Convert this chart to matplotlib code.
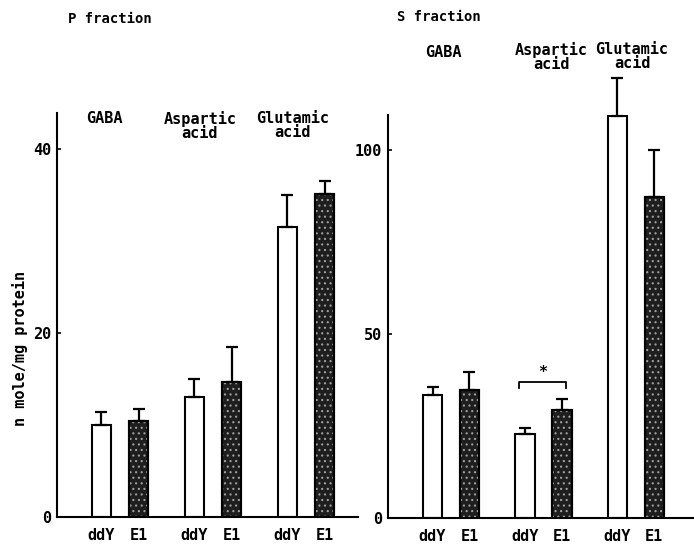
import matplotlib
matplotlib.use("Agg")
import matplotlib.pyplot as plt
import numpy as np

plt.rcParams['font.family'] = ['DejaVu Sans Mono', 'DejaVu Sans']
plt.rcParams['font.weight'] = 'bold'
plt.rcParams['hatch.linewidth'] = 0.8

# ---- data ----
amino_acids = ["GABA", "Aspartic\nacid", "Glutamic\nacid"]
strains = ["ddY", "E1"]

p_ddY = [10.0, 13.0, 31.5]
p_ddY_se = [1.4, 2.0, 3.5]
p_E1 = [10.4, 14.7, 35.1]
p_E1_se = [1.3, 3.8, 1.4]

s_ddY = [33.4, 22.8, 109.2]
s_ddY_se = [2.2, 1.7, 10.4]
s_E1 = [34.8, 29.3, 87.2]
s_E1_se = [4.9, 3.0, 12.8]

p_yticks = [0, 20, 40]
s_yticks = [0, 50, 100]

W, H = 694, 553
fig = plt.figure(figsize=(W / 100, H / 100), dpi=100)

def axes_px(x0, x1, y_top, y_bot):
    return fig.add_axes([x0 / W, 1 - y_bot / H, (x1 - x0) / W, (y_bot - y_top) / H])

axP = axes_px(57, 358, 113, 517)
axS = axes_px(388, 694, 115, 518)

FS = 11
off = 0.2
bw = 0.21
dark = '#1e1e1e'

def draw(ax, ddy, ddy_se, e1, e1_se, ylim, xlim, yticks, label_x, label_y):
    x = np.arange(len(amino_acids))
    ax.bar(x - off, ddy, width=bw, color='white', edgecolor='black', linewidth=1.5, zorder=2)
    ax.bar(x + off, e1, width=bw, color=dark, edgecolor='black', linewidth=1.5, zorder=2)
    ax.bar(x + off, e1, width=bw, color='none', edgecolor='#a0a0a0', linewidth=0,
           hatch='...', zorder=3)
    ax.bar(x + off, e1, width=bw, color='none', edgecolor='black', linewidth=1.5, zorder=4)
    for xs, v, se in ((x - off, ddy, ddy_se), (x + off, e1, e1_se)):
        ax.errorbar(xs, v, yerr=[np.zeros(len(v)), se], fmt='none', ecolor='black',
                    elinewidth=1.6, capsize=4, capthick=1.6, zorder=5, clip_on=False)
    ax.set_ylim(*ylim)
    ax.set_xlim(*xlim)
    ax.spines['top'].set_visible(False)
    ax.spines['right'].set_visible(False)
    for s in ('left', 'bottom'):
        ax.spines[s].set_linewidth(1.5)
    ax.set_yticks(yticks)
    ax.set_yticklabels([str(t) for t in yticks], fontsize=FS)
    ax.tick_params(axis='y', direction='in', length=3, width=1.2, pad=4)
    xt = np.concatenate([x - off, x + off])
    names = [strains[0]] * len(x) + [strains[1]] * len(x)
    order = np.argsort(xt)
    ax.set_xticks(xt[order])
    ax.set_xticklabels([names[i] for i in order], fontsize=FS)
    ax.tick_params(axis='x', length=0, pad=8)
    for xi, name, ly in zip(label_x, amino_acids, label_y):
        ax.text(xi, ly, name, ha='center', va='top', fontsize=FS, linespacing=0.9,
                clip_on=False, transform=ax.transData)

draw(axP, p_ddY, p_ddY_se, p_E1, p_E1_se, (0, 43.9), (-0.677, 2.56), p_yticks,
     [-0.17, 0.86, 1.86], [44.1, 44.1, 44.1])
draw(axS, s_ddY, s_ddY_se, s_E1, s_E1_se, (0, 109.5), (-0.682, 2.63), s_yticks,
     [-0.08, 1.09, 1.96], [128.5, 129.3, 129.3])

# significance bracket on S fraction aspartic acid
bx0, bx1 = 1 - off - 0.06, 1 + off + 0.04
axS.plot([bx0, bx0, bx1, bx1], [35.3, 37.0, 37.0, 35.3], color='black', lw=1.3,
         clip_on=False)
axS.text((bx0 + bx1) / 2, 39.5, '*', ha='center', va='center', fontsize=FS)

fig.text(68 / W, 1 - 19 / H, 'P fraction', ha='left', va='center', fontsize=FS - 1)
fig.text(397 / W, 1 - 17 / H, 'S fraction', ha='left', va='center', fontsize=FS - 1)
fig.text(20 / W, 1 - 348 / H, 'n mole/mg protein', rotation=90, ha='center',
         va='center', fontsize=FS)

fig.savefig('out.png', dpi=100)
